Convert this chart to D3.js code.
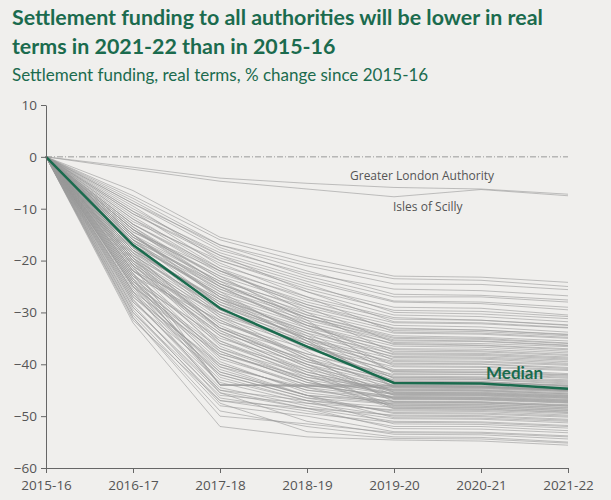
<!DOCTYPE html>
<html>
<head>
<meta charset="utf-8">
<script src="https://cdn.jsdelivr.net/npm/d3@7"></script>
<style>
  body { margin: 0; background: #f0efed; }
  svg { display: block; }
</style>
</head>
<body>
<script>
var years = ["2015-16", "2016-17", "2017-18", "2018-19", "2019-20", "2020-21", "2021-22"];
var yTicks = [10, 0, -10, -20, -30, -40, -50, -60];

var median = [0, -17, -29.2, -36.6, -43.6, -43.7, -44.7];
var greaterLondon = [0, -2.0, -4.1, -5.1, -5.9, -6.2, -7.2];
var islesOfScilly = [0, -2.4, -4.7, -6.2, -7.7, -6.3, -7.5];

// all other authorities (roughly)
var authorities = [
  [0, -6.5, -15.5, -19.5, -23, -23.2, -24.2],
  [0, -7.5, -16, -20.5, -23.5, -23.8, -25],
  [0, -8, -17, -21, -24.5, -24.6, -25.6],
  [0, -9, -18, -22.5, -25.5, -25.8, -26.8],
  [0, -8.5, -17.5, -23, -27, -27, -28],
  [0, -10, -19, -24, -28, -28.3, -29.5],
  [0, -9.5, -20, -25, -29, -29.2, -30.5],
  [0, -11, -19.5, -24.5, -30, -30.3, -31.2],
  [0, -10.5, -21, -26, -30.5, -30.8, -31.8],
  [0, -12, -22, -27, -31, -31.5, -32.5],
  [0, -13, -22.5, -28, -32, -32.2, -33],
  [0, -14.5, -23, -28.5, -32.5, -32.8, -33.8],
  [0, -15, -24, -29, -33, -33.4, -34.2],
  [0, -13.5, -23.5, -29.5, -33.5, -33.7, -34.5],
  [0, -16, -24.5, -30, -34, -34.2, -35],
  [0, -14, -25, -30.5, -34.5, -34.8, -35.5],
  [0, -15.5, -25.5, -31, -35, -35.2, -36],
  [0, -17, -26, -31.5, -35.5, -35.6, -36.4],
  [0, -16.5, -26.5, -32, -36, -36.3, -37],
  [0, -15, -27, -32.5, -36.5, -36.7, -37.5],
  [0, -18, -27.5, -33, -37, -37.1, -37.8],
  [0, -17.5, -28, -33.5, -37.5, -37.6, -38.3],
  [0, -16, -28.5, -34, -38, -38.1, -38.8],
  [0, -19, -29, -34.5, -38.5, -38.6, -39.2],
  [0, -18.5, -29.5, -35, -39, -39, -39.8],
  [0, -17, -30, -35.5, -39.5, -39.6, -40.2],
  [0, -20, -30.5, -36, -40, -40, -40.8],
  [0, -19.5, -31, -36.5, -40.5, -40.6, -41.2],
  [0, -18, -28, -35, -41, -41, -41.8],
  [0, -21, -32, -37, -41.2, -41.3, -42],
  [0, -16.5, -27, -34, -41.5, -41.6, -42.3],
  [0, -20.5, -33, -38, -42, -42, -42.7],
  [0, -22, -30, -36, -42.3, -42.4, -43],
  [0, -17.5, -29, -37, -42.6, -42.7, -43.4],
  [0, -21.5, -34, -39, -43, -43, -43.8],
  [0, -23, -31.5, -38.5, -43.3, -43.4, -44],
  [0, -19, -32.5, -39.5, -43.6, -43.6, -44.3],
  [0, -24, -35, -40, -44, -44, -44.6],
  [0, -22.5, -44, -44, -44, -44.2, -44.8],
  [0, -25, -44, -44.2, -44.3, -44.4, -45],
  [0, -21, -44, -44, -44.1, -44.2, -45],
  [0, -23.5, -44, -44.3, -44.5, -44.6, -45.2],
  [0, -18.5, -33.5, -40.5, -44.4, -44.5, -45.1],
  [0, -20, -36, -41, -44.8, -44.9, -45.5],
  [0, -24.5, -37, -42, -45, -45.1, -45.7],
  [0, -22, -34, -41.5, -45.3, -45.4, -46],
  [0, -26, -38, -43, -45.6, -45.7, -46.3],
  [0, -19.5, -35.5, -42.5, -45.9, -46, -46.6],
  [0, -23, -39, -44, -46.2, -46.3, -46.9],
  [0, -27, -40, -45, -46.5, -46.6, -47.2],
  [0, -21.5, -37.5, -43.5, -46.8, -46.9, -47.5],
  [0, -25.5, -41, -46, -47.1, -47.2, -47.8],
  [0, -24, -39.5, -45.5, -47.4, -47.5, -48],
  [0, -28, -42, -46.5, -47.7, -47.8, -48.4],
  [0, -22.5, -38.5, -44.5, -48, -48.1, -48.7],
  [0, -26.5, -43, -47, -48.3, -48.4, -49],
  [0, -20.5, -36.5, -43, -48.6, -48.7, -49.3],
  [0, -29, -45, -47, -49, -49.1, -49.8],
  [0, -25, -41.5, -46, -49.5, -49.6, -50.2],
  [0, -30, -46, -47.5, -50, -50.1, -50.8],
  [0, -27.5, -44.5, -48, -50.5, -50.6, -51.3],
  [0, -31.5, -47, -48.5, -51, -51.1, -51.8],
  [0, -24.5, -42.5, -47, -51.5, -51.6, -52.3],
  [0, -28.5, -46.5, -49, -52, -52, -52.8],
  [0, -32, -52, -54, -54.6, -54.8, -55.6],
  [0, -30.5, -48, -50, -53, -53.1, -53.8],
  [0, -26, -45.5, -51, -53.5, -53.6, -54.4],
  [0, -31, -49, -52, -54, -54.1, -55],
  [0, -29.5, -47.5, -53, -54.3, -54.4, -55.2],
  [0, -12, -20.5, -27, -33.8, -34, -34.8],
  [0, -14.5, -22, -29, -35.8, -36, -36.6],
  [0, -13, -21.5, -30, -37.8, -37.9, -38.6],
  [0, -15.5, -24, -32, -39.3, -39.4, -40],
  [0, -16, -25, -33, -40.3, -40.4, -41],
  [0, -14, -23, -31.5, -41.8, -41.9, -42.5],
  [0, -17, -26.5, -34.5, -42.8, -42.9, -43.6],
  [0, -18.5, -27.5, -35.5, -43.8, -43.9, -44.5],
  [0, -15, -26, -35, -44.6, -44.7, -45.3],
  [0, -19, -29.5, -37.5, -45.4, -45.5, -46.1],
  [0, -20, -31.5, -39, -46, -46.1, -46.8],
  [0, -21, -33.5, -40.5, -46.7, -46.8, -47.4],
  [0, -17.5, -30.5, -38.5, -47.3, -47.4, -48.1],
  [0, -23.5, -36, -42, -47.9, -48, -48.6],
  [0, -22, -34.5, -41, -48.5, -48.6, -49.2],
  [0, -25, -37.5, -43.5, -45.8, -45.9, -46.5],
  [0, -26.5, -40.5, -44.5, -46.4, -46.5, -47.1],
  [0, -24, -38, -42.5, -44.9, -45, -45.7],
  [0, -13.5, -24.5, -31, -36.2, -36.4, -37.2],
  [0, -11, -19, -26, -31.8, -32, -32.9],
  [0, -9, -17, -22, -26.5, -26.7, -27.6],
  [0, -10.5, -18.5, -23.5, -27.8, -28, -29],
  [0, -12.5, -20, -25.5, -29.6, -29.8, -30.8],
  [0, -11.5, -21.5, -27.5, -31.3, -31.5, -32.4],
  [0, -13, -22, -28.5, -33.2, -33.4, -34.3],
  [0, -14, -24.5, -31, -35.3, -35.5, -36.3],
  [0, -16.5, -25.5, -32.5, -37.2, -37.4, -38.1],
  [0, -15, -27.5, -33.5, -38.7, -38.8, -39.5],
  [0, -18, -28.5, -35, -39.8, -39.9, -40.6],
  [0, -19.5, -30, -36.5, -41.4, -41.5, -42.1],
  [0, -20.5, -32, -38, -42.5, -42.6, -43.2],
  [0, -22, -33, -39.5, -43.4, -43.5, -44.1],
  [0, -18, -31, -39, -44.2, -44.3, -44.9],
  [0, -23, -35.5, -41.5, -45.1, -45.2, -45.9],
  [0, -21, -34.5, -42, -45.7, -45.8, -46.4],
  [0, -25, -38.5, -44, -46.3, -46.4, -47],
  [0, -19.5, -33, -40, -46.6, -46.7, -47.3],
  [0, -24.5, -40, -45, -47.2, -47.3, -47.9],
  [0, -27, -41.5, -46, -47.6, -47.7, -48.3],
  [0, -22.5, -37, -43, -48.2, -48.3, -48.9],
  [0, -28, -43.5, -47.5, -48.8, -48.9, -49.5],
  [0, -26, -42, -46.5, -49.3, -49.4, -50],
  [0, -29, -45.5, -48.5, -49.8, -49.9, -50.6],
  [0, -23.5, -40.5, -46, -50.3, -50.4, -51],
  [0, -30, -47, -49.5, -51.2, -51.3, -52],
  [0, -27.5, -45, -48.5, -52.4, -52.5, -53.2],
  [0, -31, -50, -51.5, -53.2, -53.3, -54],
  [0, -17, -28.5, -36, -43.2, -43.3, -44.2],
  [0, -16, -27, -35.5, -44.3, -44.4, -45],
  [0, -20, -33, -40, -45.5, -45.6, -46.2],
  [0, -15.5, -25, -32.5, -38.2, -38.3, -39],
  [0, -14, -23.5, -30.5, -34.8, -35, -35.9]
];

var green = "#1b6b4e";
var width = 611, height = 500;
var margin = {top: 105, right: 43, bottom: 32, left: 46};

var svg = d3.select("body").append("svg")
    .attr("width", width)
    .attr("height", height);

// titles
svg.append("text")
    .attr("x", 12).attr("y", 25)
    .attr("fill", green)
    .style("font-family", "Lato, sans-serif")
    .style("font-weight", "bold")
    .style("font-size", "21.4px")
    .text("Settlement funding to all authorities will be lower in real");
svg.append("text")
    .attr("x", 12).attr("y", 54)
    .attr("fill", green)
    .style("font-family", "Lato, sans-serif")
    .style("font-weight", "bold")
    .style("font-size", "21.4px")
    .text("terms in 2021-22 than in 2015-16");
svg.append("text")
    .attr("x", 12).attr("y", 81)
    .attr("fill", green)
    .style("font-family", "Lato, sans-serif")
    .style("font-size", "17px")
    .text("Settlement funding, real terms, % change since 2015-16");

var x = d3.scalePoint()
    .domain(years)
    .range([margin.left, width - margin.right]);

var y = d3.scaleLinear()
    .domain([-60, 10])
    .range([height - margin.bottom, margin.top]);

var line = d3.line()
    .x(function(d, i){ return x(years[i]); })
    .y(function(d){ return y(d); });

// zero line
svg.append("line")
    .attr("x1", x(years[0])).attr("x2", x(years[years.length - 1]))
    .attr("y1", y(0)).attr("y2", y(0))
    .attr("stroke", "#999")
    .attr("stroke-width", 1)
    .attr("stroke-dasharray", "6,2,1,2");

svg.append("g")
    .selectAll("path")
    .data(authorities.concat([greaterLondon, islesOfScilly]))
    .enter().append("path")
    .attr("d", line)
    .attr("fill", "none")
    .attr("stroke", "#999")
    .attr("stroke-opacity", 0.6)
    .attr("stroke-width", 1);

svg.append("path")
    .datum(median)
    .attr("d", line)
    .attr("fill", "none")
    .attr("stroke", green)
    .attr("stroke-width", 2.5);

// axes
var yAxis = svg.append("g")
    .attr("transform", "translate(" + margin.left + ",0)")
    .call(d3.axisLeft(y).tickValues(yTicks).tickSize(5).tickSizeOuter(0).tickPadding(4));

var xAxis = svg.append("g")
    .attr("transform", "translate(0," + (height - margin.bottom) + ")")
    .call(d3.axisBottom(x).tickSize(5).tickSizeOuter(0).tickPadding(7));

[yAxis, xAxis].forEach(function(a){
    a.select(".domain").attr("stroke", "#666");
    a.selectAll(".tick line").attr("stroke", "#666");
    a.selectAll("text")
        .attr("fill", "#555")
        .style("font-family", "'Open Sans', sans-serif")
        .style("font-size", "13.5px");
});

// labels
svg.append("text")
    .attr("x", 350).attr("y", y(-4.4))
    .attr("fill", "#555")
    .style("font-family", "'Open Sans', sans-serif")
    .style("font-size", "12px")
    .text("Greater London Authority");
svg.append("text")
    .attr("x", 393).attr("y", y(-10.4))
    .attr("fill", "#555")
    .style("font-family", "'Open Sans', sans-serif")
    .style("font-size", "12px")
    .text("Isles of Scilly");
svg.append("text")
    .attr("x", 486).attr("y", y(-42.8))
    .attr("fill", green)
    .style("font-family", "Lato, sans-serif")
    .style("font-weight", "bold")
    .style("font-size", "17px")
    .text("Median");
</script>
</body>
</html>
